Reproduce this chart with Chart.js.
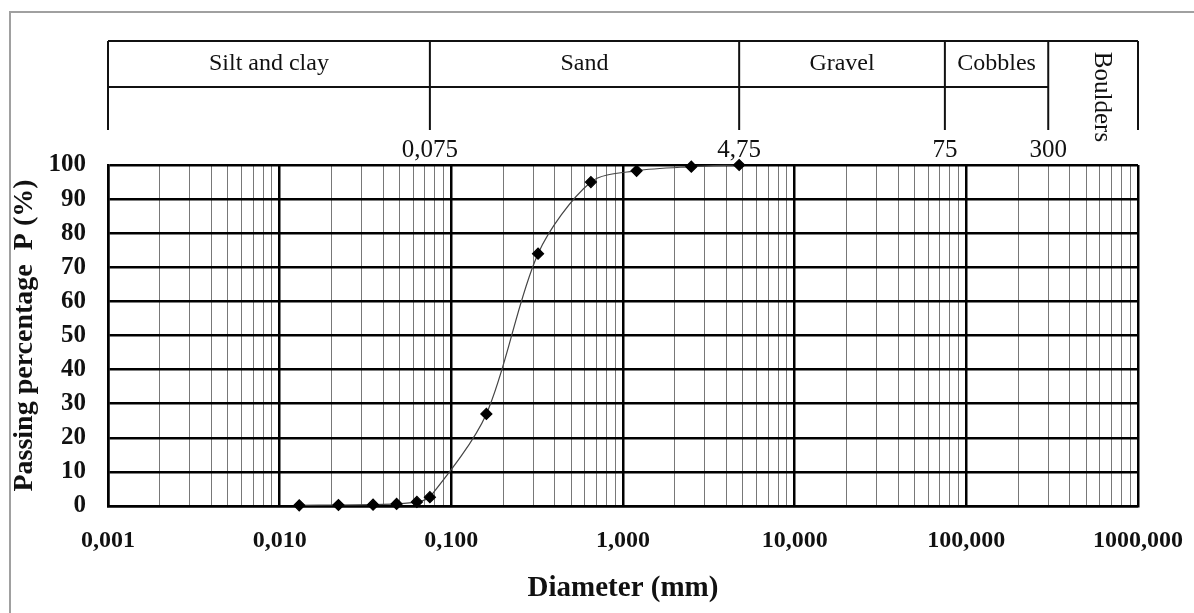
<!DOCTYPE html>
<html>
<head>
<meta charset="utf-8">
<script src="https://cdn.jsdelivr.net/npm/chart.js@4.4.0/dist/chart.umd.min.js"></script>
<style>
  html, body { margin: 0; padding: 0; background: #fff; }
  #wrap { width: 1194px; height: 613px; position: relative; }
</style>
</head>
<body>
<div id="wrap"><canvas id="grading"></canvas></div>
<script>
// grain size distribution (diameter in mm, passing %)
const diameters = [0.013, 0.022, 0.035, 0.048, 0.063, 0.075, 0.16, 0.32, 0.65, 1.2, 2.5, 4.75];
const passing = [0.2, 0.3, 0.4, 0.6, 1.2, 2.6, 27, 74, 95, 98.3, 99.5, 100];

const xTickValues = [0.001, 0.01, 0.1, 1, 10, 100, 1000];
const xTickLabels = ['0,001', '0,010', '0,100', '1,000', '10,000', '100,000', '1000,000'];

// soil classes shown in the header table
const classNames = ['Silt and clay', 'Sand', 'Gravel', 'Cobbles'];
const classBounds = [0.001, 0.075, 4.75, 75, 300, 1000];
const boundLabels = ['0,075', '4,75', '75', '300'];
const lastClass = 'Boulders';

const serif = '"Liberation Serif", "Times New Roman", serif';

const isDecade = (v) => Math.abs(Math.log10(v) - Math.round(Math.log10(v))) < 1e-6;

// every 1..9 step of each decade, for the log paper grid
const xGrid = [];
for (let d = -3; d < 3; d++) {
  for (let k = 1; k < 10; k++) xGrid.push(+(k * Math.pow(10, d)).toPrecision(3));
}
xGrid.push(1000);

const headerTable = {
  id: 'headerTable',
  beforeDraw(chart) {
    const { ctx } = chart;
    ctx.save();
    ctx.strokeStyle = '#a0a0a0';
    ctx.lineWidth = 2;
    ctx.beginPath();
    ctx.moveTo(10, 613);
    ctx.lineTo(10, 12);
    ctx.lineTo(1194, 12);
    ctx.stroke();
    ctx.restore();
  },
  afterDraw(chart) {
    const { ctx } = chart;
    const x = chart.scales.x;
    const px = classBounds.map((b) => x.getPixelForValue(b));
    const top = 41, mid = 87, low = 130;
    ctx.save();
    ctx.strokeStyle = '#111';
    ctx.lineWidth = 2;
    ctx.beginPath();
    ctx.moveTo(px[0], top);
    ctx.lineTo(px[px.length - 1], top);
    ctx.moveTo(px[0], mid);
    ctx.lineTo(px[px.length - 2], mid);
    px.forEach((p) => {
      ctx.moveTo(p, top);
      ctx.lineTo(p, low);
    });
    ctx.stroke();

    ctx.fillStyle = '#111';
    ctx.font = '24px ' + serif;
    ctx.textAlign = 'center';
    ctx.textBaseline = 'middle';
    classNames.forEach((name, i) => {
      ctx.fillText(name, (px[i] + px[i + 1]) / 2, 64);
    });
    ctx.font = '25px ' + serif;
    ctx.textBaseline = 'alphabetic';
    boundLabels.forEach((lab, i) => {
      ctx.fillText(lab, px[i + 1], 157);
    });

    // rotated last class
    ctx.save();
    ctx.translate((px[px.length - 2] + px[px.length - 1]) / 2 + 8, 97);
    ctx.rotate(Math.PI / 2);
    ctx.font = '25px ' + serif;
    ctx.textBaseline = 'middle';
    ctx.fillText(lastClass, 0, 0);
    ctx.restore();
    ctx.restore();
  },
};

new Chart(document.getElementById('grading'), {
  type: 'line',
  data: {
    datasets: [{
      data: diameters.map((d, i) => ({ x: d, y: passing[i] })),
      borderColor: '#444',
      borderWidth: 1.2,
      tension: 0.3,
      clip: false,
      pointStyle: 'rectRot',
      pointRadius: 5.5,
      pointBackgroundColor: '#000',
      pointBorderColor: '#000',
      fill: false,
    }],
  },
  options: {
    responsive: true,
    maintainAspectRatio: false,
    animation: false,
    layout: { padding: { top: 165, right: 56, left: 8, bottom: 0 } },
    plugins: { legend: { display: false }, tooltip: { enabled: false } },
    scales: {
      x: {
        type: 'logarithmic',
        min: 0.001,
        max: 1000,
        afterBuildTicks: (scale) => {
          scale.ticks = xGrid.map((v) => ({ value: v, major: isDecade(v) }));
        },
        afterFit: (scale) => {
          scale.height = 107;
          scale.paddingLeft = 0;
          scale.paddingRight = 0;
        },
        ticks: {
          autoSkip: false,
          maxRotation: 0,
          padding: 20,
          color: '#111',
          font: { family: serif, size: 24, weight: 'bold' },
          callback: (v) => {
            const i = xTickValues.findIndex((t) => Math.abs(t - v) < t * 1e-6);
            return i >= 0 ? xTickLabels[i] : '';
          },
        },
        grid: {
          drawTicks: false,
          color: (c) => (c.tick && isDecade(c.tick.value) ? '#000' : '#555'),
          lineWidth: (c) => (c.tick && isDecade(c.tick.value) ? 2.5 : 0.8),
        },
        border: { color: '#000', width: 2.5 },
        title: {
          display: true,
          text: 'Diameter (mm)',
          color: '#111',
          font: { family: serif, size: 29, weight: 'bold' },
          padding: { top: 0, bottom: 7 },
        },
      },
      y: {
        min: 0,
        max: 100,
        afterFit: (scale) => { scale.width = 100; },
        ticks: {
          stepSize: 5,
          padding: 22,
          color: '#111',
          font: { family: serif, size: 25, weight: 'bold' },
          callback: (v) => (v % 10 === 0 ? v : ''),
        },
        grid: {
          drawTicks: false,
          color: (c) => (c.tick && c.tick.value % 10 === 0 ? '#000' : '#999'),
          lineWidth: (c) => (c.tick && c.tick.value % 10 === 0 ? 2.5 : 1),
        },
        border: { color: '#000', width: 2.5 },
        title: {
          display: true,
          text: 'Passing percentage  P (%)',
          color: '#111',
          font: { family: serif, size: 28, weight: 'bold' },
          padding: { top: 0, bottom: 0 },
        },
      },
    },
  },
  plugins: [headerTable],
});
</script>
</body>
</html>
